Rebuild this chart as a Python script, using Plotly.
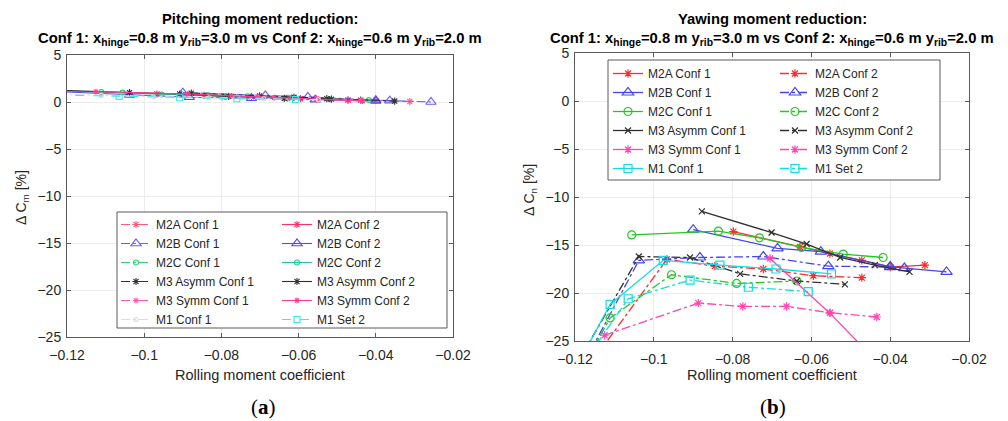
import plotly.graph_objects as go

W, H = 1008, 421

# ---------------- data ----------------
series_names = ["M2A Conf 1", "M2A Conf 2", "M2B Conf 1", "M2B Conf 2",
                "M2C Conf 1", "M2C Conf 2", "M3 Asymm Conf 1", "M3 Asymm Conf 2",
                "M3 Symm Conf 1", "M3 Symm Conf 2", "M1 Conf 1", "M1 Set 2"]

roll_m2a_1 = [-0.0798, -0.0629, -0.0553, -0.0472, -0.0400, -0.0312]
yaw_m2a_1 = [-13.6, -15.2, -15.9, -16.6, -17.3, -17.1]
pitch_m2a_1 = [0.55, 0.40, 0.30, 0.22, 0.15, 0.05]

roll_m2a_2 = [-0.1225, -0.0967, -0.0845, -0.0722, -0.0595, -0.0472]
yaw_m2a_2 = [-31.0, -16.5, -17.2, -17.5, -18.2, -18.4]
pitch_m2a_2 = [1.20, 0.85, 0.70, 0.55, 0.35, 0.20]

roll_m2b_1 = [-0.0900, -0.0686, -0.0576, -0.0400, -0.0364, -0.0257]
yaw_m2b_1 = [-13.4, -15.35, -15.7, -17.25, -17.4, -17.8]
pitch_m2b_1 = [1.00, 0.70, 0.55, 0.20, 0.15, 0.00]

roll_m2b_2 = [-0.1225, -0.1038, -0.0883, -0.0722, -0.0557, -0.0400]
yaw_m2b_2 = [-31.0, -16.6, -16.3, -16.2, -17.2, -17.3]
pitch_m2b_2 = [1.10, 0.75, 0.50, 0.40, 0.25, 0.10]

roll_m2c_1 = [-0.1056, -0.0836, -0.0732, -0.0625, -0.0519, -0.0418]
yaw_m2c_1 = [-13.95, -13.55, -14.25, -15.25, -15.95, -16.3]
pitch_m2c_1 = [1.00, 0.75, 0.60, 0.45, 0.30, 0.20]

roll_m2c_2 = [-0.1225, -0.1111, -0.0955, -0.0790, -0.0637]
yaw_m2c_2 = [-31.0, -22.6, -18.1, -19.0, -18.75]
pitch_m2c_2 = [1.20, 1.05, 0.80, 0.55, 0.40]

roll_m3a_1 = [-0.0878, -0.0701, -0.0612, -0.0527, -0.0439, -0.0351]
yaw_m3a_1 = [-11.5, -13.7, -14.9, -16.3, -17.1, -17.8]
pitch_m3a_1 = [0.95, 0.65, 0.50, 0.35, 0.20, 0.10]

roll_m3a_2 = [-0.1225, -0.1038, -0.0908, -0.0781, -0.0637, -0.0515]
yaw_m3a_2 = [-29.5, -16.2, -16.3, -18.0, -18.75, -19.1]
pitch_m3a_2 = [1.25, 1.00, 0.85, 0.60, 0.40, 0.30]

roll_m3s_1 = [-0.0705, -0.0553, -0.0440]
yaw_m3s_1 = [-16.4, -22.1, -26.9]
pitch_m3s_1 = [0.55, 0.35, 0.15]

roll_m3s_2 = [-0.1125, -0.0887, -0.0774, -0.0663, -0.0553, -0.0434]
yaw_m3s_2 = [-24.4, -21.05, -21.4, -21.4, -22.05, -22.5]
pitch_m3s_2 = [1.10, 0.85, 0.65, 0.45, 0.30, 0.10]

roll_m1_1 = [-0.1225, -0.1111, -0.0976, -0.0832, -0.0690, -0.0549]
yaw_m1_1 = [-29.9, -21.2, -16.6, -17.1, -17.5, -18.0]
pitch_m1_1 = [0.80, 0.70, 0.55, 0.45, 0.35, 0.25]

roll_m1_2 = [-0.1225, -0.1065, -0.0908, -0.0760, -0.0608]
yaw_m1_2 = [-30.0, -20.6, -18.65, -19.4, -19.85]
pitch_m1_2 = [0.75, 0.60, 0.45, 0.35, 0.25]

x_tick_vals = [-0.12, -0.10, -0.08, -0.06, -0.04, -0.02]
x_tick_text = ["\u22120.12", "\u22120.1", "\u22120.08", "\u22120.06", "\u22120.04", "\u22120.02"]
y_tick_vals = [5, 0, -5, -10, -15, -20, -25]
y_tick_text = ["5", "0", "\u22125", "\u221210", "\u221215", "\u221220", "\u221225"]

# table built from the arrays above
table = [
    (roll_m2a_1, pitch_m2a_1, yaw_m2a_1),
    (roll_m2a_2, pitch_m2a_2, yaw_m2a_2),
    (roll_m2b_1, pitch_m2b_1, yaw_m2b_1),
    (roll_m2b_2, pitch_m2b_2, yaw_m2b_2),
    (roll_m2c_1, pitch_m2c_1, yaw_m2c_1),
    (roll_m2c_2, pitch_m2c_2, yaw_m2c_2),
    (roll_m3a_1, pitch_m3a_1, yaw_m3a_1),
    (roll_m3a_2, pitch_m3a_2, yaw_m3a_2),
    (roll_m3s_1, pitch_m3s_1, yaw_m3s_1),
    (roll_m3s_2, pitch_m3s_2, yaw_m3s_2),
    (roll_m1_1, pitch_m1_1, yaw_m1_1),
    (roll_m1_2, pitch_m1_2, yaw_m1_2),
]

# ---------------- styles ----------------
FONT = "Liberation Sans, Arial, Helvetica, sans-serif"
TXT = "#262626"
RED, BLUE, GREEN, BLACK, MAG, CYAN = "#ff2a2a", "#4646e6", "#22c822", "#303030", "#ff45b0", "#14dce4"

# (color, dash, symbol, size) for the right (yaw) panel
style_yaw = [
    (RED, "solid", "asterisk-open", 7), (RED, "dashdot", "asterisk-open", 7),
    (BLUE, "solid", "triangle-up-open", 10), (BLUE, "dashdot", "triangle-up-open", 10),
    (GREEN, "solid", "circle-open", 8), (GREEN, "dashdot", "circle-open", 8),
    (BLACK, "solid", "x-thin-open", 6), (BLACK, "dashdot", "x-thin-open", 6),
    (MAG, "solid", "asterisk-open", 7), (MAG, "dashdot", "asterisk-open", 7),
    (CYAN, "solid", "square-open", 8), (CYAN, "dashdot", "square-open", 8),
]
# left (pitch) panel
style_pitch = [
    ("#ff5a7a", "dashdot", "asterisk-open", 6), ("#ff3060", "solid", "asterisk-open", 6),
    ("#6a5cff", "dashdot", "triangle-up-open", 9), ("#5a48e8", "solid", "triangle-up-open", 9),
    ("#2ed27a", "dashdot", "circle-open", 5), ("#22c89a", "solid", "circle-open", 5),
    (BLACK, "dashdot", "asterisk-open", 6), (BLACK, "solid", "asterisk-open", 6),
    ("#ff5ab4", "dashdot", "asterisk-open", 5), ("#ff3c8c", "solid", "asterisk-open", 5),
    ("#dcdcdc", "dashdot", "circle-open", 4), ("#3ce8ec", "dash", "square-open", 6),
]

fig = go.Figure()

for i, (name, (rx, py, yy)) in enumerate(zip(series_names, table)):
    c, d, s, sz = style_pitch[i]
    fig.add_trace(go.Scatter(
        x=rx, y=py, name=name, mode="lines+markers", xaxis="x", yaxis="y",
        line=dict(color=c, dash=d, width=1.1),
        marker=dict(symbol=s, size=sz, color=c, line=dict(color=c, width=1.1)),
        legend="legend" if i % 2 == 0 else "legend2"))

for i, (name, (rx, py, yy)) in enumerate(zip(series_names, table)):
    c, d, s, sz = style_yaw[i]
    fig.add_trace(go.Scatter(
        x=rx, y=yy, name=name, mode="lines+markers", xaxis="x2", yaxis="y2",
        line=dict(color=c, dash=d, width=1.3),
        marker=dict(symbol=s, size=sz, color=c, line=dict(color=c, width=1.2)),
        legend="legend3" if i % 2 == 0 else "legend4"))


def px_x(p):
    return p / W


def px_y(p):
    return 1 - p / H


axis_common = dict(
    showline=True, linecolor="#5a5a5a", linewidth=1, mirror="ticks",
    ticks="inside", ticklen=4, tickcolor="#5a5a5a", automargin=False,
    showgrid=True, gridcolor="#ececec", gridwidth=1, zeroline=False,
    tickfont=dict(family=FONT, size=14, color=TXT),
)

L = dict(x0=67, x1=453, y0=55, y1=337)
R = dict(x0=575, x1=969, y0=53, y1=341)

fig.update_layout(
    width=W, height=H,
    margin=dict(l=0, r=0, t=0, b=0, autoexpand=False),
    paper_bgcolor="white", plot_bgcolor="white",
    font=dict(family=FONT, color=TXT),
    xaxis=dict(domain=[px_x(L["x0"]), px_x(L["x1"])], range=[-0.12, -0.02],
               tickvals=x_tick_vals, ticktext=x_tick_text, anchor="y",
               ticklabelstandoff=5, **axis_common),
    yaxis=dict(domain=[px_y(L["y1"]), px_y(L["y0"])], range=[-25, 5],
               tickvals=y_tick_vals, ticktext=y_tick_text, anchor="x",
               ticklabelstandoff=2, **axis_common),
    xaxis2=dict(domain=[px_x(R["x0"]), px_x(R["x1"])], range=[-0.12, -0.02],
                tickvals=x_tick_vals, ticktext=x_tick_text, anchor="y2",
                ticklabelstandoff=5, **axis_common),
    yaxis2=dict(domain=[px_y(R["y1"]), px_y(R["y0"])], range=[-25, 5],
                tickvals=y_tick_vals, ticktext=y_tick_text, anchor="x2",
                ticklabelstandoff=2, **axis_common),
)

leg_common = dict(xanchor="left", yanchor="top", bgcolor="rgba(0,0,0,0)", borderwidth=0,
                  font=dict(family=FONT, size=12, color=TXT), tracegroupgap=0,
                  itemwidth=30, orientation="v")
fig.update_layout(
    legend=dict(x=px_x(116), y=px_y(210), **leg_common),
    legend2=dict(x=px_x(277), y=px_y(210), **leg_common),
    legend3=dict(x=px_x(608), y=px_y(59), **leg_common),
    legend4=dict(x=px_x(775), y=px_y(59), **leg_common),
)

# legend boxes
fig.add_shape(type="rect", xref="paper", yref="paper", layer="above",
              x0=px_x(117), x1=px_x(447), y0=px_y(328), y1=px_y(212),
              line=dict(color="#5a5a5a", width=1), fillcolor="white")
fig.add_shape(type="rect", xref="paper", yref="paper", layer="above",
              x0=px_x(608), x1=px_x(940), y0=px_y(180), y1=px_y(60),
              line=dict(color="#5a5a5a", width=1), fillcolor="white")

sub_line = ("<b>Conf 1: x<sub>hinge</sub>=0.8 m y<sub>rib</sub>=3.0 m vs "
            "Conf 2: x<sub>hinge</sub>=0.6 m y<sub>rib</sub>=2.0 m</b>")
ann = []
for cx, head in [((L["x0"] + L["x1"]) / 2, "Pitching moment reduction:"),
                 ((R["x0"] + R["x1"]) / 2, "Yawing moment reduction:")]:
    ann.append(dict(x=px_x(cx), y=px_y(19), xref="paper", yref="paper", showarrow=False,
                    xanchor="center", yanchor="middle", text="<b>" + head + "</b>",
                    font=dict(family=FONT, size=14.8, color="black")))
    ann.append(dict(x=px_x(cx), y=px_y(28), xref="paper", yref="paper", showarrow=False,
                    xanchor="center", yanchor="top", text=sub_line,
                    font=dict(family=FONT, size=14.8, color="black")))
    ann.append(dict(x=px_x(cx), y=px_y(375), xref="paper", yref="paper", showarrow=False,
                    xanchor="center", yanchor="middle", text="Rolling moment coefficient",
                    font=dict(family=FONT, size=14.5, color=TXT)))

ann.append(dict(x=px_x(22), y=px_y(198), xref="paper", yref="paper", showarrow=False,
                xanchor="center", yanchor="middle", textangle=-90,
                text="\u0394 C<sub>m</sub> [%]", font=dict(family=FONT, size=14, color=TXT)))
ann.append(dict(x=px_x(530), y=px_y(190), xref="paper", yref="paper", showarrow=False,
                xanchor="center", yanchor="middle", textangle=-90,
                text="\u0394 C<sub>n</sub> [%]", font=dict(family=FONT, size=14, color=TXT)))

ann.append(dict(x=px_x(263), y=px_y(407), xref="paper", yref="paper", showarrow=False,
                xanchor="center", yanchor="middle", text="(<b>a</b>)",
                font=dict(family="Liberation Serif, Times New Roman, serif", size=21, color="black")))
ann.append(dict(x=px_x(773), y=px_y(407), xref="paper", yref="paper", showarrow=False,
                xanchor="center", yanchor="middle", text="(<b>b</b>)",
                font=dict(family="Liberation Serif, Times New Roman, serif", size=21, color="black")))

fig.update_layout(annotations=ann)

fig.write_html("out.html")
